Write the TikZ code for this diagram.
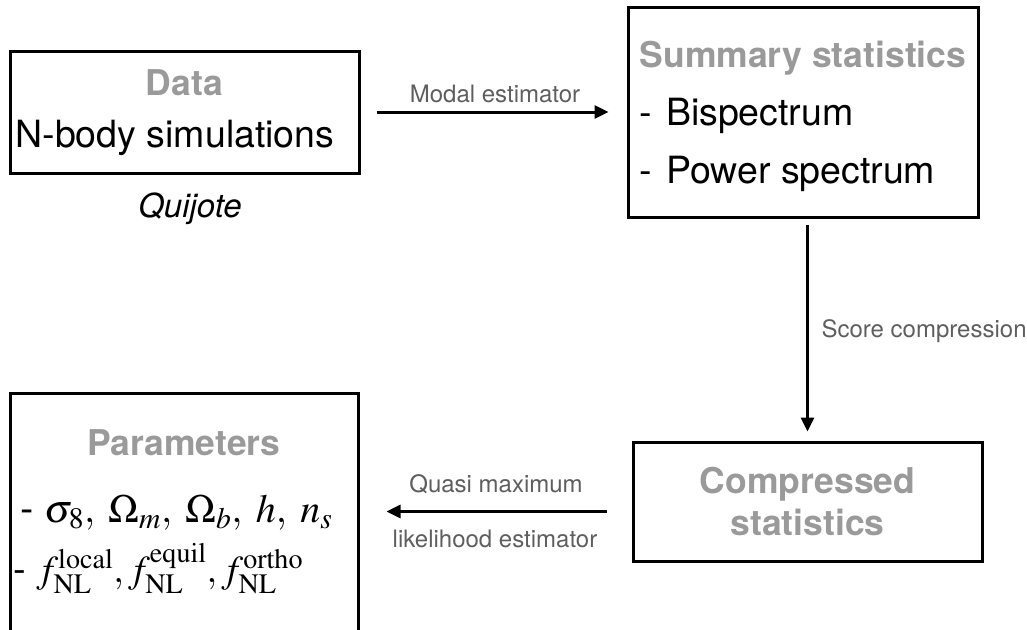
\documentclass[tikz,border=0pt]{standalone}
\usepackage{mathptmx}
\usepackage[no-math]{fontspec}
\setmainfont{TeX Gyre Heros}
\usetikzlibrary{arrows.meta}
\usetikzlibrary{positioning}
\definecolor{titlegray}{HTML}{9A9A9A}
\definecolor{labelgray}{HTML}{5E5E5E}
\tikzset{
    stage/.style = {draw, line width = 3pt, inner sep = 0pt},
    title/.style = {anchor = base, text = titlegray, font = \fontsize{35.5}{42}\selectfont\bfseries},
    body/.style = {anchor = base, font = \fontsize{37.5}{44}\selectfont},
    formula/.style = {anchor = base west, inner sep = 1pt, font = \fontsize{40}{46}\selectfont},
    edgelabel/.style = {anchor = base, text = labelgray, font = \fontsize{24}{29}\selectfont},
    flow/.style = {-{Triangle[length = 14pt, width = 13pt]}, line width = 3pt}
}

\begin{document}
\begin{tikzpicture}[x = 1pt, y = -1pt]
        \clip (0, 0) rectangle (1027, 629);

        % boxes
        \node[stage, minimum width = 349pt, minimum height = 122pt] (data) at (184.5, 112) {};
        \node[stage, minimum width = 350pt, minimum height = 210pt] (summary) at (803, 112) {};
        \node[stage, minimum width = 349pt, minimum height = 119pt] (comp) at (807.5, 501.5) {};
        \node[stage, minimum width = 348pt, minimum height = 267pt] (params) at (184, 526.5) {};

        % texts
        \node[title] (datatitle) at (184.5, 95) {Data};
        \node[body] (nbody) at (175, 147) {N-body simulations};
        \node[body, font = \fontsize{33}{39}\selectfont\itshape] (quijote) at (190, 217) {Quijote};

        \node[title] (sumtitle) at (803, 67) {Summary statistics};
        \node[body, anchor = base west] (bispec) at (636, 125) {-\hspace{14pt}Bispectrum};
        \node[body, anchor = base west] (powspec) at (636, 183) {-\hspace{14pt}Power spectrum};

        \node[title] (comptitle) at (807.5, 493) {Compressed};
        \node[title] (comptitle2) at (807.5, 535) {statistics};

        \node[title] (paramtitle) at (184, 455) {Parameters};
        \node[formula] (cosmo) at (19, 522) {- $\sigma_8,\; \Omega_m,\; \Omega_b,\; h,\; n_s$};
        \node[formula, font = \fontsize{38}{44}\selectfont] (fnl) at (12, 582) {- $f^{\mathrm{local}}_{\mathrm{NL}}, f^{\mathrm{equil}}_{\mathrm{NL}}, f^{\mathrm{ortho}}_{\mathrm{NL}}$};

        % arrows
        \draw[flow, shorten <= 16pt, shorten >= 18pt] (data.east) -- (summary.west);
        \draw[flow, shorten <= 6pt, shorten >= 9pt] (comp.north |- summary.south) -- (comp.north);
        \draw[flow, shorten <= 25pt, shorten >= 27pt] ([yshift = -10pt]comp.west) -- ([yshift = -10pt]comp.west -| params.east);

        \node[edgelabel] (modal) at (495, 102) {Modal estimator};
        \node[edgelabel, anchor = base west] (score) at (818, 337) {Score compression};
        \node[edgelabel] (quasi) at (496, 492) {Quasi maximum};
        \node[edgelabel] (likeli) at (495, 547) {likelihood estimator};
    \end{tikzpicture}
\end{document}
